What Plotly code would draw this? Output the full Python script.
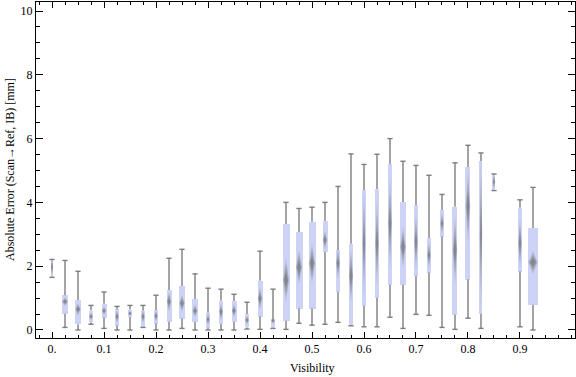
import numpy as np
import plotly.graph_objects as go

# ---- data ----
visibility = [0.000, 0.025, 0.050, 0.075, 0.100, 0.125, 0.150, 0.175, 0.200, 0.225,
              0.250, 0.275, 0.300, 0.325, 0.350, 0.375, 0.400, 0.425, 0.450, 0.475,
              0.500, 0.525, 0.550, 0.575, 0.600, 0.625, 0.650, 0.675, 0.700, 0.725,
              0.750, 0.775, 0.800, 0.825, 0.850, 0.900, 0.925]
whisker_low = [1.65, 0.08, 0.00, 0.18, 0.05, 0.00, 0.00, 0.08, 0.00, 0.00,
               0.05, 0.00, 0.00, 0.00, 0.00, 0.03, 0.02, 0.05, 0.02, 0.21,
               0.15, 0.18, 0.24, 0.13, 0.10, 0.10, 0.40, 0.05, 0.49, 0.46,
               0.08, 0.02, 0.37, 0.05, 4.37, 0.10, 0.00]
q1 = [1.65, 0.51, 0.18, 0.24, 0.39, 0.14, 0.41, 0.09, 0.20, 0.26,
      0.36, 0.26, 0.07, 0.19, 0.26, 0.08, 0.42, 0.08, 0.29, 0.67,
      0.67, 2.45, 1.20, 0.16, 0.76, 1.01, 1.42, 1.42, 1.70, 1.80,
      2.93, 0.48, 1.58, 0.51, 4.37, 1.83, 0.79]
median = [1.98, 0.89, 0.65, 0.42, 0.60, 0.42, 0.52, 0.42, 0.44, 0.89,
          0.84, 0.60, 0.33, 0.57, 0.60, 0.31, 0.99, 0.29, 1.57, 1.97,
          2.09, 2.82, 2.09, 1.70, 2.72, 2.72, 3.34, 2.61, 2.77, 2.35,
          3.34, 2.51, 3.87, 3.00, 4.65, 2.72, 2.12]
q3 = [2.21, 1.09, 0.94, 0.61, 0.82, 0.65, 0.64, 0.60, 0.63, 1.25,
      1.38, 0.97, 0.54, 0.92, 0.91, 0.50, 1.54, 0.33, 3.32, 3.07,
      3.39, 3.42, 2.51, 2.70, 4.39, 4.42, 5.20, 4.01, 3.92, 2.88,
      3.76, 3.86, 5.11, 5.30, 4.86, 3.83, 3.20]
whisker_high = [2.21, 2.18, 1.84, 0.77, 1.19, 0.74, 0.77, 0.77, 1.09, 2.25,
                2.53, 1.76, 1.31, 1.28, 1.12, 0.87, 2.47, 1.28, 4.00, 3.81,
                3.85, 4.00, 4.50, 5.52, 5.19, 5.51, 6.00, 5.29, 5.16, 4.85,
                4.25, 5.24, 5.79, 5.55, 4.89, 4.08, 4.47]
counts = [7, 45, 36, 22, 25, 16, 18, 16, 16, 25,
          36, 32, 16, 18, 25, 22, 25, 22, 49, 49,
          49, 25, 18, 22, 11, 16, 18, 40, 16, 16,
          14, 25, 25, 9, 9, 16, 114]

x_tick_vals = [0.0, 0.1, 0.2, 0.3, 0.4, 0.5, 0.6, 0.7, 0.8, 0.9]
x_tick_text = ["0.", "0.1", "0.2", "0.3", "0.4", "0.5", "0.6", "0.7", "0.8", "0.9"]
y_tick_vals = [0, 2, 4, 6, 8, 10]

# ---- derived geometry ----
X_RANGE = [-0.0308, 1.0058]
Y_RANGE = [-0.251, 10.282]
PX_PER_X = 539 / (X_RANGE[1] - X_RANGE[0])

pos = np.array(visibility)
lo = np.array(whisker_low); b1 = np.array(q1); md = np.array(median)
b3 = np.array(q3); hi = np.array(whisker_high); n = np.array(counts, float)
width = np.sqrt(n) / PX_PER_X          # box width ~ sqrt(sample size)
iqr = b3 - b1
cap = 2.6 / PX_PER_X

BOX = "rgb(205,211,246)"
GRAY = "rgb(125,125,125)"
FONT = "Liberation Serif"

fig = go.Figure()

# boxes
fig.add_trace(go.Bar(x=pos, y=iqr, base=b1, width=width,
                     marker=dict(color=BOX, line=dict(width=0)),
                     hoverinfo="skip", showlegend=False))

# whiskers (outside the box) and caps
wx, wy = [], []
for i in range(len(pos)):
    if hi[i] > b3[i]:
        wx += [pos[i], pos[i], None]; wy += [b3[i], hi[i], None]
    if lo[i] < b1[i]:
        wx += [pos[i], pos[i], None]; wy += [b1[i], lo[i], None]
    wx += [pos[i] - cap, pos[i] + cap, None, pos[i] - cap, pos[i] + cap, None]
    wy += [hi[i], hi[i], None, lo[i], lo[i], None]
fig.add_trace(go.Scatter(x=wx, y=wy, mode="lines",
                         line=dict(color=GRAY, width=1.4),
                         hoverinfo="skip", showlegend=False))

# median diamonds (notch-like), soft outer + darker inner
def diamonds(hfac, wfac):
    dx, dy = [], []
    for i in range(len(pos)):
        hh = hfac * iqr[i] / np.sqrt(n[i])
        hh = max(hh, 0.05)
        ww = wfac * width[i] / 2
        dx += [pos[i], pos[i] + ww, pos[i], pos[i] - ww, pos[i], None]
        dy += [md[i] + hh, md[i], md[i] - hh, md[i], md[i] + hh, None]
    return dx, dy

for hfac, wfac, op in [(1.57, 0.9, 0.25), (1.1, 0.7, 0.35), (0.6, 0.55, 0.5)]:
    dx, dy = diamonds(hfac, wfac)
    fig.add_trace(go.Scatter(x=dx, y=dy, mode="lines", fill="toself",
                             fillcolor=f"rgba(110,110,110,{op})",
                             line=dict(width=0), hoverinfo="skip",
                             showlegend=False))

axis_common = dict(showline=True, linecolor="black", linewidth=1, mirror="allticks",
                   ticks="inside", tickcolor="black", showgrid=False, zeroline=False,
                   automargin=False,
                   tickfont=dict(family=FONT, size=12, color="black"))

fig.update_xaxes(range=X_RANGE, tickvals=x_tick_vals, ticktext=x_tick_text,
                 ticklen=6, tickwidth=1,
                 minor=dict(ticks="inside", dtick=0.025, tick0=0, ticklen=3,
                            tickcolor="black", tickwidth=1, showgrid=False),
                 **axis_common)
fig.update_yaxes(range=Y_RANGE, tickvals=y_tick_vals, ticklen=7, tickwidth=1,
                 minor=dict(ticks="inside", dtick=0.5, tick0=0, ticklen=4,
                            tickcolor="black", tickwidth=1, showgrid=False),
                 **axis_common)

fig.update_layout(
    width=576, height=377,
    margin=dict(l=36, r=1, t=2, b=39, autoexpand=False),
    paper_bgcolor="white", plot_bgcolor="white",
    bargap=0,
    annotations=[
        dict(text="Visibility", xref="paper", yref="paper",
             x=(312 - 36) / 539, y=-(368 - 338) / 336, showarrow=False,
             xanchor="center", yanchor="middle",
             font=dict(family=FONT, size=12, color="black")),
        dict(text="Absolute Error (Scan\u2192Ref, IB) [mm]", xref="paper", yref="paper",
             x=-(36 - 10) / 539, y=(338 - 170) / 336, showarrow=False, textangle=-90,
             xanchor="center", yanchor="middle",
             font=dict(family=FONT, size=12, color="black")),
    ],
)

fig.write_html("out.html",
               config={"displayModeBar": False},
               post_script="document.body.style.margin='0';document.body.style.padding='0';")
